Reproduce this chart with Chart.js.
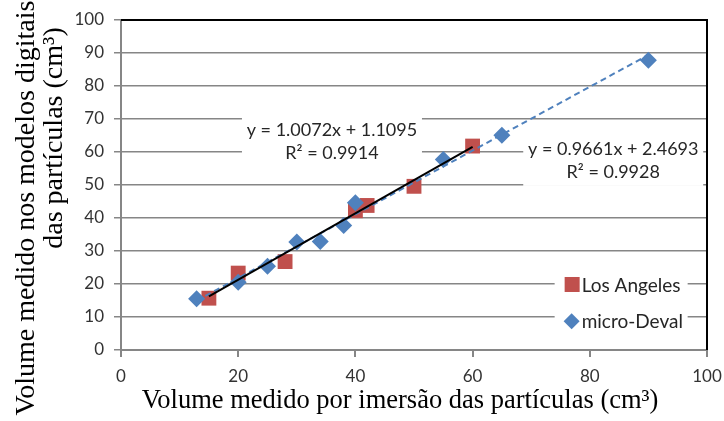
<!DOCTYPE html>
<html>
<head>
<meta charset="utf-8">
<script src="https://cdn.jsdelivr.net/npm/chart.js@4"></script>
<style>
  html, body { margin: 0; padding: 0; background: #fff; }
  #wrap { width: 724px; height: 421px; }
</style>
</head>
<body>
<div id="wrap"><canvas id="chart" width="724" height="421"></canvas></div>
<script>
// data
const laX = [15, 20, 28, 40, 42, 50, 60]
const laY = [15.7, 23.3, 26.8, 42.2, 43.8, 49.6, 61.8]
const mdX = [12.9, 20, 25, 30, 34, 38, 40, 55, 65, 90]
const mdY = [15.5, 20.5, 25.4, 32.7, 32.9, 37.7, 44.6, 57.7, 65.1, 87.8]

// trend lines (Excel linear fits shown on the chart)
const laFit = { slope: 1.0072, icpt: 1.1095, r2: '0.9914' }
const mdFit = { slope: 0.9661, icpt: 2.4693, r2: '0.9928' }

const yTicks = [0, 10, 20, 30, 40, 50, 60, 70, 80, 90, 100]
const xTicks = [0, 20, 40, 60, 80, 100]

const xTitle = 'Volume medido por imersão das partículas (cm³)'
const yTitle = ['Volume medido nos modelos digitais', 'das partículas (cm³)']

const RED = '#C0504D'
const BLUE = '#4F81BD'
const GRID = '#868686'

function fitLine(fit, xs) {
    const lo = Math.min(...xs), hi = Math.max(...xs)
    return [lo, hi].map(x => ({ x: x, y: fit.slope * x + fit.icpt }))
}

function pts(xs, ys) {
    return xs.map((x, i) => ({ x: x, y: ys[i] }))
}

// equation boxes, placed in data units
const notes = [
    { x: 36, y: 63.4, w: 180, h: 50, lines: ['y = ' + laFit.slope.toFixed(4) + 'x + ' + laFit.icpt.toFixed(4), 'R² = ' + laFit.r2] },
    { x: 84, y: 57.6, w: 180, h: 52, lines: ['y = ' + mdFit.slope.toFixed(4) + 'x + ' + mdFit.icpt.toFixed(4), 'R² = ' + mdFit.r2] }
]

const boxPlugin = {
    id: 'boxes',
    beforeDatasetsDraw(chart) {
        const ctx = chart.ctx
        const xs = chart.scales.x, ys = chart.scales.y
        ctx.save()
        ctx.font = '18px Lato'
        notes.forEach(n => {
            const cx = xs.getPixelForValue(n.x), cy = ys.getPixelForValue(n.y)
            ctx.fillStyle = '#fff'
            ctx.fillRect(cx - n.w / 2, cy - n.h / 2, n.w, n.h)
            ctx.fillStyle = '#262626'
            ctx.textAlign = 'center'
            ctx.textBaseline = 'middle'
            ctx.fillText(n.lines[0], cx, cy - 11)
            ctx.fillText(n.lines[1], cx, cy + 12)
        })
        // legend inside the plot
        const lx = xs.getPixelForValue(74), ly1 = ys.getPixelForValue(19.7), ly2 = ys.getPixelForValue(8.7)
        ctx.fillStyle = '#fff'
        ctx.fillRect(lx, ly1 - 16, 133, ly2 - ly1 + 32)
        ctx.fillStyle = RED
        ctx.fillRect(lx + 10, ly1 - 8, 15, 15)
        ctx.fillStyle = BLUE
        ctx.beginPath()
        ctx.moveTo(lx + 17, ly2 - 8)
        ctx.lineTo(lx + 25, ly2)
        ctx.lineTo(lx + 17, ly2 + 8)
        ctx.lineTo(lx + 9, ly2)
        ctx.closePath()
        ctx.fill()
        ctx.font = '19px Lato'
        ctx.fillStyle = '#262626'
        ctx.textAlign = 'left'
        ctx.textBaseline = 'middle'
        ctx.fillText('Los Angeles', lx + 27, ly1 + 1)
        ctx.fillText('micro-Deval', lx + 27, ly2 + 1)
        ctx.restore()
    },
    afterDraw(chart) {
        const a = chart.chartArea
        const ctx = chart.ctx
        ctx.save()
        ctx.strokeStyle = '#000'
        ctx.lineWidth = 2
        ctx.beginPath()
        ctx.moveTo(a.left, a.top)
        ctx.lineTo(a.right, a.top)
        ctx.lineTo(a.right, a.bottom)
        ctx.stroke()

        // axis titles
        ctx.fillStyle = '#000'
        ctx.textAlign = 'center'
        ctx.textBaseline = 'middle'
        ctx.font = '26.5px "Liberation Serif"'
        ctx.fillText(xTitle, 400, 401)
        ctx.font = '28px "Liberation Serif"'
        ctx.translate(27, 208)
        ctx.rotate(-Math.PI / 2)
        ctx.fillText(yTitle[0], 0, 0)
        ctx.fillText(yTitle[1], 70, 28)
        ctx.restore()
    }
}

new Chart(document.querySelector('#chart'), {
    type: 'scatter',
    data: {
        datasets: [
            {
                label: 'Linear (Los Angeles)',
                data: fitLine(laFit, laX),
                showLine: true,
                borderColor: '#000',
                borderWidth: 2,
                pointRadius: 0,
                order: 0
            },
            {
                label: 'Linear (micro-Deval)',
                data: fitLine(mdFit, mdX),
                showLine: true,
                borderColor: BLUE,
                borderWidth: 2,
                borderDash: [6, 4],
                pointRadius: 0,
                order: 1
            },
            {
                label: 'micro-Deval',
                data: pts(mdX, mdY),
                pointStyle: 'rectRot',
                pointRadius: 8.5,
                backgroundColor: BLUE,
                borderColor: BLUE,
                borderWidth: 0,
                order: 2
            },
            {
                label: 'Los Angeles',
                data: pts(laX, laY),
                pointStyle: 'rect',
                pointRadius: 10.5,
                backgroundColor: RED,
                borderColor: RED,
                borderWidth: 0,
                order: 3
            }
        ]
    },
    options: {
        responsive: false,
        animation: false,
        layout: { padding: { top: 20, right: 17, left: 0, bottom: 0 } },
        plugins: {
            legend: { display: false },
            tooltip: { enabled: false }
        },
        scales: {
            x: {
                type: 'linear',
                min: 0,
                max: 100,
                afterBuildTicks: s => { s.ticks = xTicks.map(v => ({ value: v })) },
                afterFit: s => { s.height = 71; s.paddingLeft = 0; s.paddingRight = 0 },
                border: { color: GRID, width: 2 },
                grid: { drawOnChartArea: false, color: GRID, lineWidth: 2, tickLength: 7 },
                ticks: { color: '#333', padding: 9, font: { family: 'Lato', size: 17 } }
            },
            y: {
                type: 'linear',
                min: 0,
                max: 100,
                afterBuildTicks: s => { s.ticks = yTicks.map(v => ({ value: v })) },
                afterFit: s => { s.width = 121; s.paddingTop = 0; s.paddingBottom = 0 },
                border: { color: GRID, width: 2 },
                grid: { color: GRID, lineWidth: 1.5, tickLength: 7 },
                ticks: { color: '#333', padding: 10, font: { family: 'Lato', size: 17 } }
            }
        }
    },
    plugins: [boxPlugin]
})
</script>
</body>
</html>
